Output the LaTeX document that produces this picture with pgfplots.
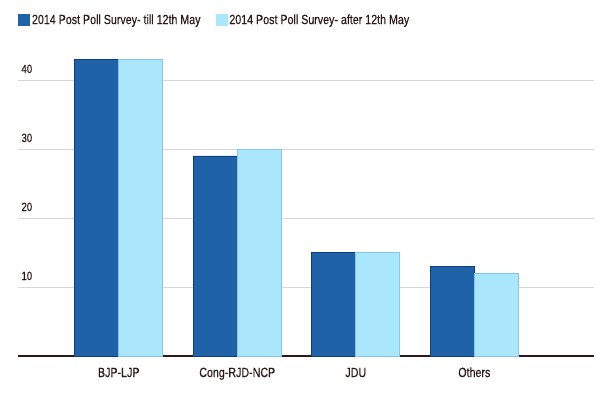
\documentclass[border=0pt]{standalone}
\usepackage{pgfplots}
\pgfplotsset{compat=1.18}
\usepackage{fontspec}
\setmainfont[FakeStretch=0.8, FakeBold=0.35]{Liberation Sans}
\definecolor{darkb}{RGB}{31,98,168}
\definecolor{darkbe}{RGB}{14,62,125}
\definecolor{lightb}{RGB}{170,230,252}
\definecolor{lightbe}{RGB}{130,200,230}
\definecolor{textc}{RGB}{45,25,25}
\definecolor{gridc}{RGB}{215,215,215}
\begin{document}
\begin{tikzpicture}[x=1bp,y=1bp]
\useasboundingbox (0,0) rectangle (600,400);
\begin{axis}[
  at={(18bp,44bp)}, anchor=south west,
  scale only axis, width=576bp, height=310.5bp,
  xmin=-0.85, xmax=4.01, ymin=0, ymax=45,
  axis x line*=bottom, axis y line*=left,
  x axis line style={draw=textc, line width=1.5bp, -},
  y axis line style={draw=none},
  ytick={10,20,30,40},
  ymajorgrids, grid style={draw=gridc, line width=1bp},
  major tick length=0pt,
  xtick={0,1,2,3},
  xticklabels={BJP-LJP,Cong-RJD-NCP,JDU,Others},
  /pgf/number format/assume math mode=true,
  xticklabel style={anchor=base, yshift=-21bp, font=\fontsize{13.4}{15}\selectfont, text=textc},
  yticklabel style={anchor=base west, yshift=7bp, font=\fontsize{12}{14}\selectfont, text=textc},
  ybar=0pt, bar width=44bp,
  legend columns=2,
  legend cell align=left,
  legend style={draw=none, fill=none, inner sep=0pt, at={(0,1)}, anchor=west, yshift=25.5bp,
    font=\fontsize{13.4}{15}\selectfont, text=textc,
    /tikz/every even column/.append style={column sep=13bp}},
]
\addplot[fill=darkb, draw=darkbe, line width=0.8bp,
  legend image code/.code={\fill[darkb] (0bp,-5.5bp) rectangle (11bp,5.5bp);}]
  coordinates {(0,43) (1,29) (2,15) (3,13)};
\addlegendentry{2014 Post Poll Survey- till 12th May}
\addplot[fill=lightb, draw=lightbe, line width=0.8bp,
  legend image code/.code={\fill[lightb] (0bp,-5.5bp) rectangle (11bp,5.5bp);}]
  coordinates {(0,43) (1,30) (2,15) (3,12)};
\addlegendentry{2014 Post Poll Survey- after 12th May}
\end{axis}
\end{tikzpicture}
\end{document}
